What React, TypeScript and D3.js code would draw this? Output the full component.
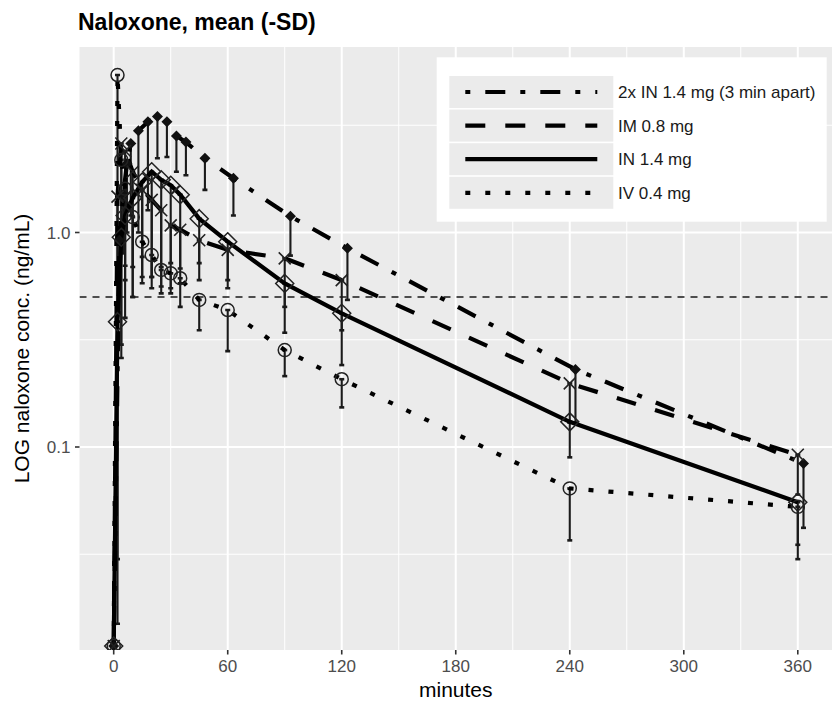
import React from 'react';
import * as d3 from 'd3';

// ---- data ----
const TIMES = [0, 2, 4, 6, 10, 15, 20, 25, 30, 35, 45, 60, 90, 120, 240, 360];
const TIMES_2X = [0, 3, 5, 7, 9, 13, 18, 23, 28, 33, 38, 48, 63, 93, 123, 243, 363];

const IN2X_MEAN = [0.0118, 0.92, 1.5, 2.1, 2.6, 2.98, 3.28, 3.47, 3.28, 2.82, 2.64, 2.22, 1.79, 1.19, 0.844, 0.23, 0.0838];
const IN2X_LOW = [0.0118, 0.5, 0.8, 1.0, 1.2, 1.0, 1.27, 2.22, 2.25, 1.92, 1.85, 1.58, 1.2, 0.78, 0.485, 0.13, 0.042];

const IM_MEAN = [0.0118, 1.47, 2.6, 2.4, 1.92, 1.58, 1.42, 1.27, 1.08, 1.03, 0.92, 0.83, 0.758, 0.6, 0.198, 0.092];
const IM_LOW = [0.0118, 0.3, 0.8, 0.7, 0.5, 0.62, 0.55, 0.52, 0.55, 0.58, 0.6, 0.55, 0.45, 0.35, 0.13, 0.06];

const IN_MEAN = [0.0118, 0.384, 0.95, 1.2, 1.45, 1.72, 1.92, 1.76, 1.66, 1.5, 1.16, 0.906, 0.579, 0.42, 0.131, 0.0553];
const IN_LOW = [0.0118, 0.03, 0.3, 0.4, 0.5, 0.58, 0.62, 0.69, 0.72, 0.68, 0.72, 0.6, 0.341, 0.241, 0.0895, 0.035];

const IV_MEAN = [0.0118, 5.42, 2.18, 1.6, 1.18, 0.906, 0.785, 0.669, 0.645, 0.612, 0.485, 0.435, 0.283, 0.207, 0.0641, 0.0526];
const IV_LOW = [0.0118, 0.015, 0.26, 0.6, 0.69, 0.77, 0.62, 0.56, 0.52, 0.45, 0.35, 0.28, 0.214, 0.153, 0.0367, 0.03];

const SERIES_NAMES = ['2x IN 1.4 mg (3 min apart)', 'IM 0.8 mg', 'IN 1.4 mg', 'IV 0.4 mg'];
const X_TICKS = [0, 60, 120, 180, 240, 300, 360];
const X_MINOR = [30, 90, 150, 210, 270, 330];
const Y_TICKS = [0.1, 1.0];
const Y_TICK_LABELS = ['0.1', '1.0'];
const Y_MINOR = [Math.pow(10, -1.5), Math.pow(10, -0.5), Math.pow(10, 0.5)];
const THRESHOLD = 0.5;

const W = 832;
const H = 702;
const P = { left: 79.5, right: 832, top: 47, bottom: 650 };
const FONT = '"Liberation Sans", Arial, Helvetica, sans-serif';

type Shape = 'diamondFilled' | 'cross' | 'diamondOpen' | 'circle';

const SERIES = [
  { name: SERIES_NAMES[0], t: TIMES_2X, mean: IN2X_MEAN, low: IN2X_LOW, dash: '5,15,20,15', shape: 'diamondFilled' as Shape },
  { name: SERIES_NAMES[1], t: TIMES, mean: IM_MEAN, low: IM_LOW, dash: '20,20', shape: 'cross' as Shape },
  { name: SERIES_NAMES[2], t: TIMES, mean: IN_MEAN, low: IN_LOW, dash: '', shape: 'diamondOpen' as Shape },
  { name: SERIES_NAMES[3], t: TIMES, mean: IV_MEAN, low: IV_LOW, dash: '5,15', shape: 'circle' as Shape },
];

function Marker({ shape, x, y }: { shape: Shape; x: number; y: number }) {
  const c = '#222';
  if (shape === 'diamondFilled') {
    const s = 5.5;
    return <path d={`M${x},${y - s}L${x + s},${y}L${x},${y + s}L${x - s},${y}Z`} fill="#111" />;
  }
  if (shape === 'cross') {
    const s = 6;
    return (
      <path d={`M${x - s},${y - s}L${x + s},${y + s}M${x - s},${y + s}L${x + s},${y - s}`} stroke={c} strokeWidth={1.6} fill="none" />
    );
  }
  if (shape === 'diamondOpen') {
    const s = 9;
    return <path d={`M${x},${y - s}L${x + s},${y}L${x},${y + s}L${x - s},${y}Z`} stroke={c} strokeWidth={1.5} fill="none" />;
  }
  return <circle cx={x} cy={y} r={6.5} stroke={c} strokeWidth={1.5} fill="none" />;
}

export default function App() {
  const x = d3.scaleLinear().domain([-18, 378]).range([P.left, P.right]);
  const yMax = Math.pow(10, (232.5 - P.top) / 214.5);
  const yMin = Math.pow(10, -(P.bottom - 232.5) / 214.5);
  const y = d3.scaleLog().domain([yMin, yMax]).range([P.bottom, P.top]);

  const line = d3
    .line<[number, number]>()
    .x((d) => x(d[0]))
    .y((d) => y(d[1]));

  const legend = { x: 436.7, y: 57.3, w: 390, h: 164.4 };
  const keyX = 449.3;
  const keyW = 164;
  const rowTop = 76;
  const rowStep = 33.6;
  const rowH = 32;

  return (
    <div style={{ position: 'absolute', left: 0, top: 0 }}>
      <svg width={W} height={H} viewBox={`0 0 ${W} ${H}`} style={{ display: 'block', background: '#fff' }}>
        <defs>
          <clipPath id="panel">
            <rect x={P.left} y={P.top} width={P.right - P.left} height={P.bottom - P.top} />
          </clipPath>
        </defs>
        <text x={78} y={30} fontFamily={FONT} fontWeight="bold" fontSize={23} fill="#000">
          Naloxone, mean (-SD)
        </text>
        <rect x={P.left} y={P.top} width={P.right - P.left} height={P.bottom - P.top} fill="#ebebeb" />
        {/* grid */}
        {Y_MINOR.map((v, i) => (
          <line key={'ym' + i} x1={P.left} x2={P.right} y1={y(v)} y2={y(v)} stroke="#fff" strokeWidth={1} />
        ))}
        {X_MINOR.map((v, i) => (
          <line key={'xm' + i} x1={x(v)} x2={x(v)} y1={P.top} y2={P.bottom} stroke="#fff" strokeWidth={1} />
        ))}
        {Y_TICKS.map((v, i) => (
          <line key={'yM' + i} x1={P.left} x2={P.right} y1={y(v)} y2={y(v)} stroke="#fff" strokeWidth={2} />
        ))}
        {X_TICKS.map((v, i) => (
          <line key={'xM' + i} x1={x(v)} x2={x(v)} y1={P.top} y2={P.bottom} stroke="#fff" strokeWidth={2} />
        ))}
        <g clipPath="url(#panel)">
          <line
            x1={P.left}
            x2={P.right}
            y1={y(THRESHOLD)}
            y2={y(THRESHOLD)}
            stroke="#1a1a1a"
            strokeWidth={1.5}
            strokeDasharray="7,6"
          />
          {/* error bars */}
          {SERIES.map((s, si) => (
            <g key={'eb' + si}>
              {s.t.map((t, i) =>
                s.low[i] < s.mean[i] ? (
                  <g key={i}>
                    <line x1={x(t)} x2={x(t)} y1={y(s.mean[i])} y2={y(s.low[i])} stroke="#1a1a1a" strokeWidth={2.1} />
                    <line x1={x(t) - 2.5} x2={x(t) + 2.5} y1={y(s.mean[i])} y2={y(s.mean[i])} stroke="#1a1a1a" strokeWidth={2.6} />
                    <line x1={x(t) - 2.5} x2={x(t) + 2.5} y1={y(s.low[i])} y2={y(s.low[i])} stroke="#1a1a1a" strokeWidth={2.6} />
                  </g>
                ) : null
              )}
            </g>
          ))}
          {/* lines */}
          {SERIES.map((s, si) => (
            <path
              key={'ln' + si}
              d={line(s.t.map((t, i) => [t, s.mean[i]] as [number, number])) || ''}
              fill="none"
              stroke="#000"
              strokeWidth={4.2}
              strokeDasharray={s.dash || undefined}
            />
          ))}
          {/* points */}
          {SERIES.map((s, si) => (
            <g key={'pt' + si}>
              {s.t.map((t, i) => (
                <Marker key={i} shape={s.shape} x={x(t)} y={y(s.mean[i])} />
              ))}
            </g>
          ))}
        </g>
        {/* axes */}
        {X_TICKS.map((v, i) => (
          <g key={'xt' + i}>
            <line x1={x(v)} x2={x(v)} y1={P.bottom} y2={P.bottom + 4.5} stroke="#333" strokeWidth={1.6} />
            <text x={x(v)} y={672} textAnchor="middle" fontFamily={FONT} fontSize={17} fill="#4d4d4d">
              {v}
            </text>
          </g>
        ))}
        {Y_TICKS.map((v, i) => (
          <g key={'yt' + i}>
            <line x1={P.left - 4.5} x2={P.left} y1={y(v)} y2={y(v)} stroke="#333" strokeWidth={1.6} />
            <text x={P.left - 9} y={y(v) + 6} textAnchor="end" fontFamily={FONT} fontSize={17} fill="#4d4d4d">
              {Y_TICK_LABELS[i]}
            </text>
          </g>
        ))}
        <text x={(P.left + P.right) / 2} y={697} textAnchor="middle" fontFamily={FONT} fontSize={21} fill="#000">
          minutes
        </text>
        <text
          transform={`translate(29,${(P.top + P.bottom) / 2}) rotate(-90)`}
          textAnchor="middle"
          fontFamily={FONT}
          fontSize={21}
          fill="#000"
        >
          LOG naloxone conc. (ng/mL)
        </text>
        {/* legend */}
        <rect x={legend.x} y={legend.y} width={legend.w} height={legend.h} fill="#fff" />
        {SERIES.map((s, i) => {
          const top = rowTop + i * rowStep;
          const cy = top + rowH / 2;
          return (
            <g key={'lg' + i}>
              <rect x={keyX} y={top} width={keyW} height={rowH} fill="#ebebeb" />
              <line
                x1={keyX + 16}
                x2={keyX + 148}
                y1={cy}
                y2={cy}
                stroke="#000"
                strokeWidth={4.2}
                strokeDasharray={s.dash || undefined}
              />
              <text x={618} y={cy + 6} fontFamily={FONT} fontSize={17} fill="#1a1a1a">
                {s.name}
              </text>
            </g>
          );
        })}
      </svg>
    </div>
  );
}
